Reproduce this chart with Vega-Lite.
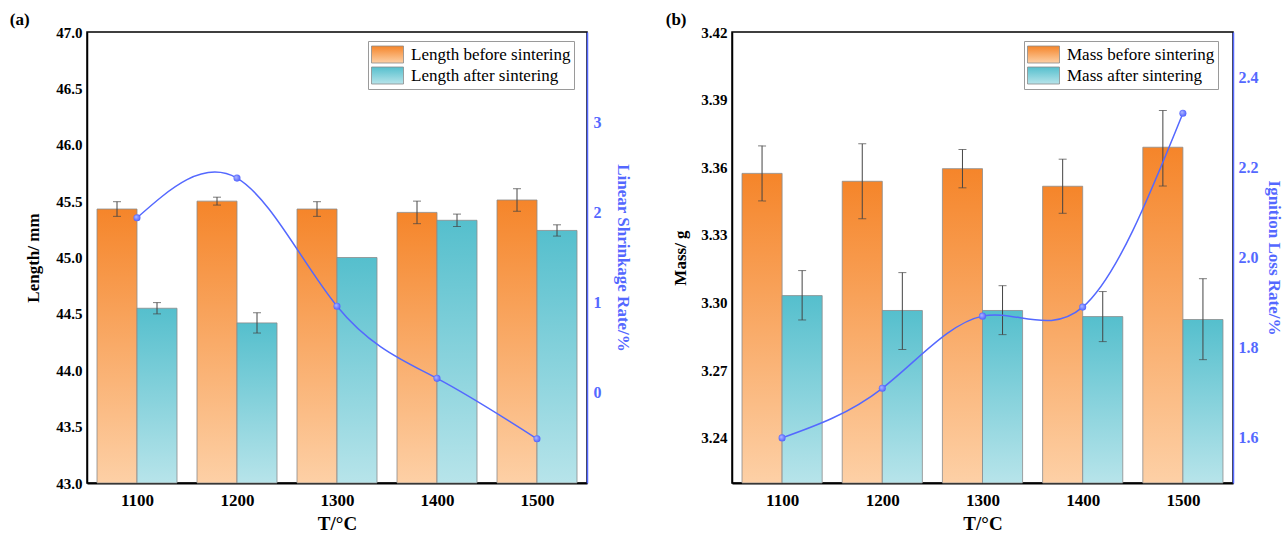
{
  "$schema": "https://vega.github.io/schema/vega-lite/v6.json",
  "padding": {"left": 9, "top": 10, "right": 3, "bottom": 3},
  "config": {
    "font": "Liberation Serif",
    "view": {"stroke": "#000", "strokeWidth": 1.5},
    "axis": {"labelFont": "Liberation Serif", "titleFont": "Liberation Serif", "labelFontWeight": "bold", "titleFontWeight": "bold", "labelColor": "#000", "titleColor": "#000", "grid": false, "zindex": 1, "labelOverlap": false},
    "title": {"font": "Liberation Serif", "fontWeight": "bold", "fontSize": 17, "anchor": "start", "frame": "bounds", "offset": 4, "dy": 8},
    "legend": {"labelFont": "Liberation Serif", "labelFontSize": 17, "labelFontWeight": "normal", "labelColor": "#000", "labelLimit": 300}
  },
  "resolve": {"scale": {"stroke": "independent", "x": "independent", "xOffset": "independent"}, "legend": {"stroke": "independent"}},
  "spacing": 33,
  "hconcat": [
    {
      "title": {"text": "(a)", "dx": -15},
      "width": 500,
      "height": 451,
      "data": {"values": [
        {"T": "1100", "S": "Length before sintering", "v": 45.43, "lo": 45.365, "hi": 45.495},
        {"T": "1200", "S": "Length before sintering", "v": 45.50, "lo": 45.465, "hi": 45.535},
        {"T": "1300", "S": "Length before sintering", "v": 45.43, "lo": 45.365, "hi": 45.495},
        {"T": "1400", "S": "Length before sintering", "v": 45.40, "lo": 45.30, "hi": 45.50},
        {"T": "1500", "S": "Length before sintering", "v": 45.51, "lo": 45.41, "hi": 45.61},
        {"T": "1100", "S": "Length after sintering", "v": 44.55, "lo": 44.50, "hi": 44.60},
        {"T": "1200", "S": "Length after sintering", "v": 44.42, "lo": 44.33, "hi": 44.51},
        {"T": "1300", "S": "Length after sintering", "v": 45.00, "lo": null, "hi": null},
        {"T": "1400", "S": "Length after sintering", "v": 45.33, "lo": 45.275, "hi": 45.385},
        {"T": "1500", "S": "Length after sintering", "v": 45.24, "lo": 45.19, "hi": 45.29}
      ]},
      "layer": [
        {
          "encoding": {
            "x": {"field": "T", "type": "ordinal", "scale": {"paddingInner": 0.2, "paddingOuter": 0.1},
              "axis": {"title": "T/°C", "labelAngle": 0, "labelOverlap": false, "tickBand": "extent", "tickSize": 0, "labelPadding": 9, "labelFont": "Liberation Serif", "labelFontSize": 17, "titleFontSize": 19, "titlePadding": 6, "domainColor": "#000", "domainWidth": 2, "tickColor": "#000", "encode": {"ticks": {"update": {"y": {"value": 0}, "y2": {"value": -4}}}}}},
            "xOffset": {"field": "S", "type": "nominal", "scale": {"domain": ["Length before sintering", "Length after sintering"]}}
          },
          "layer": [
            {
              "mark": {"type": "bar", "strokeWidth": 0.8,
                "fill": {"expr": "(datum.S || datum.value) === 'Length before sintering' ? {gradient: 'linear', x1: 0, y1: 0, x2: 0, y2: 1, stops: [{offset: 0, color: '#f5852a'}, {offset: 1, color: '#fdd0a6'}]} : {gradient: 'linear', x1: 0, y1: 0, x2: 0, y2: 1, stops: [{offset: 0, color: '#55bfcd'}, {offset: 1, color: '#b7e4ea'}]}"}},
              "encoding": {
                "y": {"field": "v", "type": "quantitative", "scale": {"domain": [43, 47], "nice": false, "zero": false},
                  "axis": {"title": "Length/ mm", "values": [43, 43.25, 43.5, 43.75, 44, 44.25, 44.5, 44.75, 45, 45.25, 45.5, 45.75, 46, 46.25, 46.5, 46.75, 47],
                    "labelExpr": "(datum.value * 2) % 1 === 0 ? format(datum.value, '.1f') : ''", "labelOverlap": false,
                    "tickSize": 0, "labelPadding": 5, "labelFont": "Liberation Serif", "labelFontSize": 15, "titleFontSize": 17, "titlePadding": 13, "domainColor": "#000", "domainWidth": 1.5, "tickColor": "#000",
                    "encode": {"ticks": {"update": {"x": {"signal": "(datum.value * 2) % 1 === 0 ? -2 : 0"}, "x2": {"signal": "(datum.value * 2) % 1 === 0 ? 7 : 4"}}}}}},
                "y2": {"datum": 43},
                "stroke": {"field": "S", "type": "nominal", "scale": {"domain": ["Length before sintering", "Length after sintering"], "range": ["#8c8c8c", "#8c8c8c"]},
                  "legend": {"title": null, "orient": "none", "legendX": 281, "legendY": 9, "padding": 3, "strokeColor": "#9a9a9a", "fillColor": "#fff",
                    "symbolType": "M-1.6,-0.85H1.6V0.85H-1.6Z", "symbolSize": 400, "symbolOffset": 6, "labelOffset": 13, "rowPadding": 0, "symbolStrokeWidth": 0.8,
                    "encode": {"symbols": {"update": {"fill": {"signal": "datum.value === 'Length before sintering' ? {gradient: 'linear', x1: 0, y1: 0, x2: 0, y2: 1, stops: [{offset: 0, color: '#f5852a'}, {offset: 1, color: '#fdd0a6'}]} : {gradient: 'linear', x1: 0, y1: 0, x2: 0, y2: 1, stops: [{offset: 0, color: '#55bfcd'}, {offset: 1, color: '#b7e4ea'}]}"}, "stroke": {"value": "#9a9a9a"}, "opacity": {"value": 1}}}}}}
              }
            },
            {
              "mark": {"type": "rule", "color": "#444", "strokeWidth": 1},
              "encoding": {"y": {"field": "lo", "type": "quantitative"}, "y2": {"field": "hi"}}
            },
            {
              "mark": {"type": "tick", "color": "#444", "thickness": 1, "size": 8},
              "encoding": {"y": {"field": "lo", "type": "quantitative"}}
            },
            {
              "mark": {"type": "tick", "color": "#444", "thickness": 1, "size": 8},
              "encoding": {"y": {"field": "hi", "type": "quantitative"}}
            }
          ]
        },
        {
          "data": {"values": [
            {"T": "1100", "r": 1.94},
            {"T": "1200", "r": 2.38},
            {"T": "1300", "r": 0.96},
            {"T": "1400", "r": 0.16},
            {"T": "1500", "r": -0.51}
          ]},
          "encoding": {
            "x": {"field": "T", "type": "ordinal"},
            "y": {"field": "r", "type": "quantitative", "scale": {"domain": [-1, 4], "nice": false, "zero": false},
              "axis": {"orient": "right", "title": "Linear Shrinkage Rate/%", "values": [0, 1, 2, 3], "format": "d", "labelOverlap": false, "tickSize": 0, "labelPadding": 6, "labelFont": "Liberation Serif", "labelFontSize": 16, "titleFontSize": 17, "titlePadding": 12,
                "labelColor": "#5468ff", "titleColor": "#5468ff", "domainColor": "#5468ff", "domainWidth": 1.5, "tickColor": "#5468ff",
                "encode": {"ticks": {"update": {"x": {"value": 0}, "x2": {"value": -6}}}}}}
          },
          "layer": [
            {"mark": {"type": "line", "interpolate": "natural", "color": "#5468ff", "strokeWidth": 1.5}},
            {"mark": {"type": "point", "filled": true, "size": 50, "opacity": 1,
              "fill": {"gradient": "radial", "x1": 0.35, "y1": 0.35, "r1": 0, "x2": 0.5, "y2": 0.5, "r2": 0.6, "stops": [{"offset": 0, "color": "#b4bcff"}, {"offset": 1, "color": "#3f52ff"}]}}}
          ]
        }
      ],
      "resolve": {"scale": {"y": "independent"}}
    },
    {
      "title": {"text": "(b)", "dx": -6},
      "width": 501,
      "height": 451,
      "data": {"values": [
        {"T": "1100", "S": "Mass before sintering", "v": 3.3573, "lo": 3.3451, "hi": 3.3695},
        {"T": "1200", "S": "Mass before sintering", "v": 3.3538, "lo": 3.3372, "hi": 3.3704},
        {"T": "1300", "S": "Mass before sintering", "v": 3.3594, "lo": 3.3509, "hi": 3.3679},
        {"T": "1400", "S": "Mass before sintering", "v": 3.3516, "lo": 3.3396, "hi": 3.3636},
        {"T": "1500", "S": "Mass before sintering", "v": 3.3689, "lo": 3.3517, "hi": 3.3852},
        {"T": "1100", "S": "Mass after sintering", "v": 3.3031, "lo": 3.2923, "hi": 3.3142},
        {"T": "1200", "S": "Mass after sintering", "v": 3.2965, "lo": 3.2792, "hi": 3.3133},
        {"T": "1300", "S": "Mass after sintering", "v": 3.2965, "lo": 3.2858, "hi": 3.3075},
        {"T": "1400", "S": "Mass after sintering", "v": 3.2938, "lo": 3.2827, "hi": 3.3049},
        {"T": "1500", "S": "Mass after sintering", "v": 3.2925, "lo": 3.2747, "hi": 3.3106}
      ]},
      "layer": [
        {
          "encoding": {
            "x": {"field": "T", "type": "ordinal", "scale": {"paddingInner": 0.2, "paddingOuter": 0.1},
              "axis": {"title": "T/°C", "labelAngle": 0, "labelOverlap": false, "tickBand": "extent", "tickSize": 0, "labelPadding": 9, "labelFont": "Liberation Serif", "labelFontSize": 17, "titleFontSize": 19, "titlePadding": 6, "domainColor": "#000", "domainWidth": 2, "tickColor": "#000", "encode": {"ticks": {"update": {"y": {"value": 0}, "y2": {"value": -4}}}}}},
            "xOffset": {"field": "S", "type": "nominal", "scale": {"domain": ["Mass before sintering", "Mass after sintering"]}}
          },
          "layer": [
            {
              "mark": {"type": "bar", "strokeWidth": 0.8,
                "fill": {"expr": "(datum.S || datum.value) === 'Mass before sintering' ? {gradient: 'linear', x1: 0, y1: 0, x2: 0, y2: 1, stops: [{offset: 0, color: '#f5852a'}, {offset: 1, color: '#fdd0a6'}]} : {gradient: 'linear', x1: 0, y1: 0, x2: 0, y2: 1, stops: [{offset: 0, color: '#55bfcd'}, {offset: 1, color: '#b7e4ea'}]}"}},
              "encoding": {
                "y": {"field": "v", "type": "quantitative", "scale": {"domain": [3.22, 3.42], "nice": false, "zero": false},
                  "axis": {"title": "Mass/ g", "values": [3.24, 3.255, 3.27, 3.285, 3.3, 3.315, 3.33, 3.345, 3.36, 3.375, 3.39, 3.405, 3.42],
                    "labelExpr": "abs(datum.value * 100 / 3 - round(datum.value * 100 / 3)) < 0.01 ? format(datum.value, '.2f') : ''", "labelOverlap": false,
                    "tickSize": 0, "labelPadding": 5, "labelFont": "Liberation Serif", "labelFontSize": 15, "titleFontSize": 17, "titlePadding": 11, "domainColor": "#000", "domainWidth": 1.5, "tickColor": "#000",
                    "encode": {"ticks": {"update": {"x": {"signal": "abs(datum.value * 100 / 3 - round(datum.value * 100 / 3)) < 0.01 ? -2 : 0"}, "x2": {"signal": "abs(datum.value * 100 / 3 - round(datum.value * 100 / 3)) < 0.01 ? 7 : 4"}}}}}},
                "y2": {"datum": 3.22},
                "stroke": {"field": "S", "type": "nominal", "scale": {"domain": ["Mass before sintering", "Mass after sintering"], "range": ["#8c8c8c", "#8c8c8c"]},
                  "legend": {"title": null, "orient": "none", "legendX": 292, "legendY": 9, "padding": 3, "strokeColor": "#9a9a9a", "fillColor": "#fff",
                    "symbolType": "M-1.6,-0.85H1.6V0.85H-1.6Z", "symbolSize": 400, "symbolOffset": 6, "labelOffset": 13, "rowPadding": 0, "symbolStrokeWidth": 0.8,
                    "encode": {"symbols": {"update": {"fill": {"signal": "datum.value === 'Mass before sintering' ? {gradient: 'linear', x1: 0, y1: 0, x2: 0, y2: 1, stops: [{offset: 0, color: '#f5852a'}, {offset: 1, color: '#fdd0a6'}]} : {gradient: 'linear', x1: 0, y1: 0, x2: 0, y2: 1, stops: [{offset: 0, color: '#55bfcd'}, {offset: 1, color: '#b7e4ea'}]}"}, "stroke": {"value": "#9a9a9a"}, "opacity": {"value": 1}}}}}}
              }
            },
            {
              "mark": {"type": "rule", "color": "#444", "strokeWidth": 1},
              "encoding": {"y": {"field": "lo", "type": "quantitative"}, "y2": {"field": "hi"}}
            },
            {
              "mark": {"type": "tick", "color": "#444", "thickness": 1, "size": 8},
              "encoding": {"y": {"field": "lo", "type": "quantitative"}}
            },
            {
              "mark": {"type": "tick", "color": "#444", "thickness": 1, "size": 8},
              "encoding": {"y": {"field": "hi", "type": "quantitative"}}
            }
          ]
        },
        {
          "data": {"values": [
            {"T": "1100", "r": 1.60},
            {"T": "1200", "r": 1.71},
            {"T": "1300", "r": 1.87},
            {"T": "1400", "r": 1.89},
            {"T": "1500", "r": 2.32}
          ]},
          "encoding": {
            "x": {"field": "T", "type": "ordinal"},
            "y": {"field": "r", "type": "quantitative", "scale": {"domain": [1.5, 2.5], "nice": false, "zero": false},
              "axis": {"orient": "right", "title": "Ignition Loss Rate/%", "values": [1.6, 1.8, 2.0, 2.2, 2.4], "format": ".1f", "labelOverlap": false, "tickSize": 0, "labelPadding": 5, "labelFont": "Liberation Serif", "labelFontSize": 16, "titleFontSize": 17, "titlePadding": 6,
                "labelColor": "#5468ff", "titleColor": "#5468ff", "domainColor": "#5468ff", "domainWidth": 1.5, "tickColor": "#5468ff",
                "encode": {"ticks": {"update": {"x": {"value": 0}, "x2": {"value": -6}}}}}}
          },
          "layer": [
            {"mark": {"type": "line", "interpolate": "natural", "color": "#5468ff", "strokeWidth": 1.5}},
            {"mark": {"type": "point", "filled": true, "size": 50, "opacity": 1,
              "fill": {"gradient": "radial", "x1": 0.35, "y1": 0.35, "r1": 0, "x2": 0.5, "y2": 0.5, "r2": 0.6, "stops": [{"offset": 0, "color": "#b4bcff"}, {"offset": 1, "color": "#3f52ff"}]}}}
          ]
        }
      ],
      "resolve": {"scale": {"y": "independent"}}
    }
  ]
}
